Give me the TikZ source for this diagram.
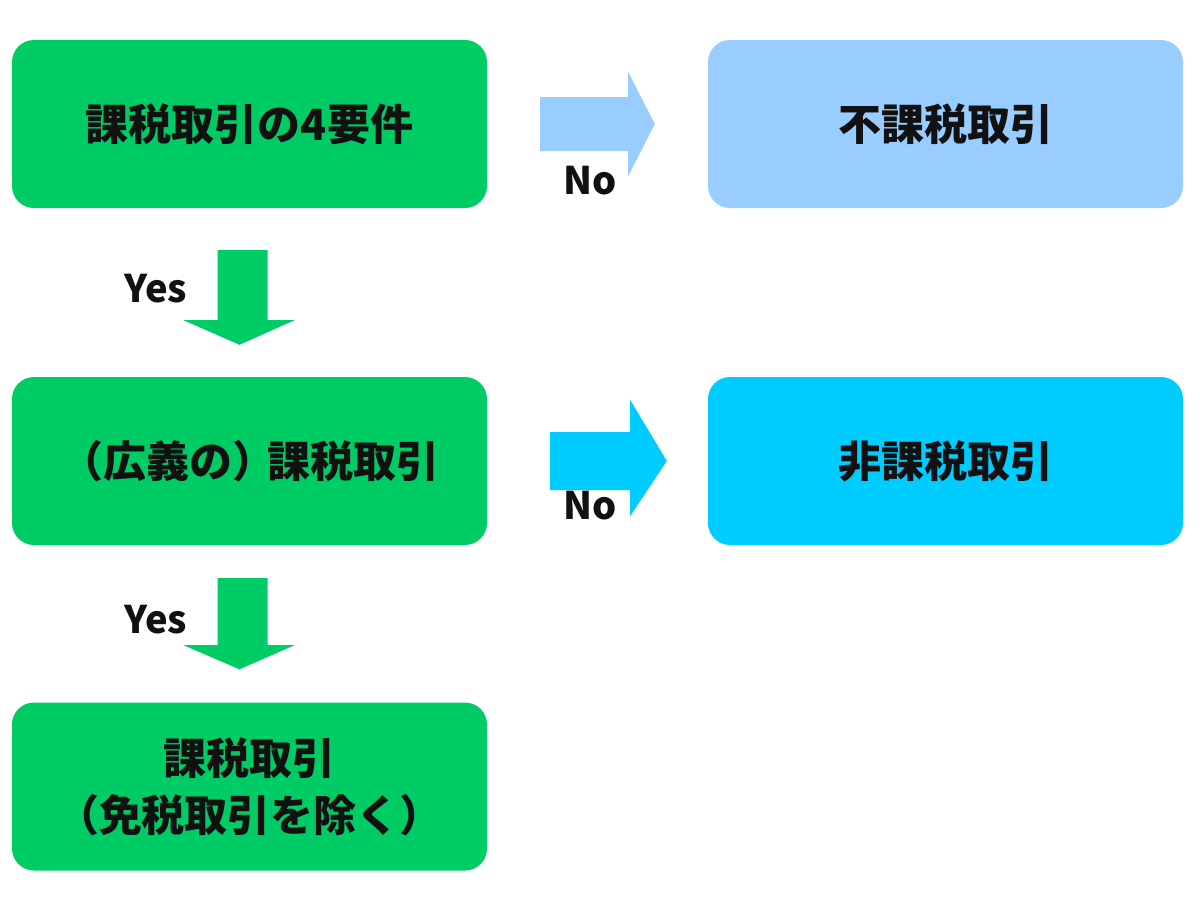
\documentclass[tikz,border=0pt]{standalone}
\usepackage{fontspec}
\newfontfamily\jp{Noto Sans CJK JP}
\usetikzlibrary{calc}
\definecolor{grn}{HTML}{00CC66}
\definecolor{lblue}{HTML}{99CCFF}
\definecolor{cyanb}{HTML}{00CCFF}
\definecolor{txt}{HTML}{111111}
\tikzset{
  box/.style={rounded corners=22pt, minimum width=475pt, minimum height=168pt, inner sep=0pt, text=txt, font=\jp\bfseries\fontsize{43}{57}\selectfont, align=center},
  lbl/.style={text=txt, font=\jp\bfseries\fontsize{38}{38}\selectfont, inner sep=0pt},
}
\begin{document}
\begin{tikzpicture}[x=1pt,y=-1pt]
\useasboundingbox (0,0) rectangle (1200,900);
\fill[white] (0,0) rectangle (1200,900);
\node[box, fill=grn] (b1) at (249.5,124) {課税取引の4要件};
\node[box, fill=lblue] (b2) at (945.5,124) {不課税取引};
\node[box, fill=grn] (b3) at (249.5,461) {（広義の）\kern-8pt課税取引};
\node[box, fill=cyanb] (b4) at (945.5,461) {非課税取引};
\node[box, fill=grn] (b5) at (249.5,786.5) {課税取引\\（免税取引を除く）};
% right arrows
\fill[lblue] ($(b1.east)+(53,-27)$) -- ++(88,0) -- ++(0,-25) -- ($(b2.west)+(-53,0)$) -- ($(b1.east)+(141,52)$) -- ++(0,-25) -- ++(-88,0) -- cycle;
\node[lbl] (no1) at (590,181) {No};
\fill[cyanb] ($(b3.east)+(63,-29)$) -- ++(80,0) -- ++(0,-32) -- ($(b4.west)+(-41,0)$) -- ($(b3.east)+(143,55)$) -- ++(0,-26) -- ++(-80,0) -- cycle;
\node[lbl] (no2) at (590,506) {No};
% down arrows
\fill[grn] ($(b1.south)+(-32,42)$) -- ++(50,0) -- ++(0,70) -- ++(27,0) -- ($(b3.north)+(-10,-32)$) -- ($(b1.south)+(-66,112)$) -- ++(34,0) -- cycle;
\node[lbl] (y1) at (156,289) {Yes};
\fill[grn] ($(b3.south)+(-32,33)$) -- ++(50,0) -- ++(0,67) -- ++(27,0) -- ($(b5.north)+(-10,-33)$) -- ($(b3.south)+(-66,100)$) -- ++(34,0) -- cycle;
\node[lbl] (y2) at (156,620) {Yes};
\end{tikzpicture}
\end{document}
